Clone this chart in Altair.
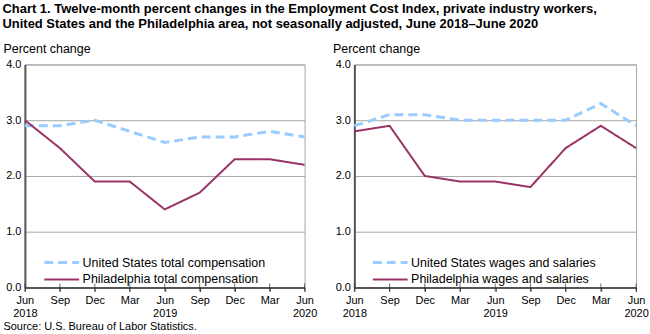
import json
import altair as alt
import pandas as pd

# ---- data ----
quarters = list(range(9))
tick_labels = [["Jun", "2018"], ["Sep"], ["Dec"], ["Mar"], ["Jun", "2019"],
               ["Sep"], ["Dec"], ["Mar"], ["Jun", "2020"]]
us_total = [2.9, 2.9, 3.0, 2.8, 2.6, 2.7, 2.7, 2.8, 2.7]
phl_total = [3.0, 2.5, 1.9, 1.9, 1.4, 1.7, 2.3, 2.3, 2.2]
us_wages = [2.9, 3.1, 3.1, 3.0, 3.0, 3.0, 3.0, 3.3, 2.9]
phl_wages = [2.8, 2.9, 2.0, 1.9, 1.9, 1.8, 2.5, 2.9, 2.5]
y_ticks = [0, 1, 2, 3, 4]

title_lines = [
    "Chart 1. Twelve-month percent changes in the Employment Cost  Index, private industry  workers,",
    "United States and the Philadelphia area, not seasonally adjusted,  June 2018\u2013June 2020",
]
source_text = "Source: U.S. Bureau of Labor Statistics."

FONT = "Liberation Sans"
US_COLOR = "#99CCFF"
PHL_COLOR = "#993366"

label_expr = json.dumps(tick_labels) + "[datum.value]"


def panel(us, phl, us_name, phl_name, width, legend_x, source, ytitle_x):
    df = pd.DataFrame({
        "q": quarters * 2,
        "v": us + phl,
        "s": [us_name] * len(us) + [phl_name] * len(phl),
    })
    domain = [us_name, phl_name]
    x_axis = alt.Axis(
        values=quarters, labelExpr=label_expr, grid=False, tickSize=4,
        tickColor="#333333", domainColor="#333333", domainWidth=1.5,
        labelFont=FONT, labelFontSize=11, labelColor="black", labelPadding=3,
        labelLineHeight=13, labelBaseline="top", labelFlush=False,
        labelOverlap=False, labelAlign="center",
        title=source if source else "",
        titleFont=FONT, titleFontSize=11, titleFontWeight="normal",
        titleColor="black", titleAnchor="start", titleAlign="left",
        titleX=-22, titleY=33, titleBaseline="top",
    )
    y_axis = alt.Axis(
        values=y_ticks, format=".1f", ticks=False, grid=True,
        gridColor="#a6a6a6", gridWidth=1, domainColor="#555555",
        domainWidth=2, labelFont=FONT, labelFontSize=11, labelColor="black",
        labelPadding=4, title="Percent change", titleAngle=0,
        titleAlign="left", titleBaseline="alphabetic", titleX=ytitle_x,
        titleY=-12, titleFont=FONT, titleFontSize=12.5,
        titleFontWeight="normal", titleColor="black",
    )
    xs = alt.Scale(domain=[0, 8], nice=False, zero=False)
    ys = alt.Scale(domain=[0, 4], nice=False)
    leg = alt.Legend(
        title=None, orient="none", legendX=legend_x, legendY=192,
        symbolType="stroke", symbolSize=1225, symbolStrokeWidth=2.5,
        labelFont=FONT, labelFontSize=12.5, labelColor="black", labelLimit=0,
        clipHeight=14, rowPadding=3, labelOffset=2)
    lines = alt.Chart(df).mark_line(strokeJoin="miter").encode(
        x=alt.X("q:Q", scale=xs, axis=x_axis),
        y=alt.Y("v:Q", scale=ys, axis=y_axis),
        color=alt.Color("s:N", scale=alt.Scale(domain=domain, range=[US_COLOR, PHL_COLOR]),
                        sort=domain, legend=leg),
        strokeDash=alt.StrokeDash("s:N", scale=alt.Scale(domain=domain, range=[[9, 5], [1, 0]]),
                                  sort=domain, legend=leg),
        strokeWidth=alt.StrokeWidth("s:N", scale=alt.Scale(domain=domain, range=[3, 2]), legend=None),
        order=alt.Order("s:N", sort="descending"),
    )
    ticks = alt.Chart(pd.DataFrame({"q": quarters, "v": [0] * len(quarters)})).mark_tick(
        orient="vertical", size=8, thickness=1, color="#333333"
    ).encode(
        x=alt.X("q:Q", scale=xs, axis=x_axis),
        y=alt.Y("v:Q", scale=ys, axis=y_axis),
    )
    return alt.layer(lines, ticks).properties(width=width, height=224)


left = panel(us_total, phl_total, "United States total compensation",
             "Philadelphia total compensation", 281, 18, source_text, -22)
right = panel(us_wages, phl_wages, "United States wages and salaries",
              "Philadelphia wages and salaries", 283, 17, None, -22)

chart = alt.hconcat(left, right, spacing=14).resolve_scale(
    color="independent", strokeDash="independent", strokeWidth="independent"
).properties(
    title=alt.TitleParams(text=title_lines, anchor="start", font=FONT, fontSize=13,
                          fontWeight="bold", color="black", lineHeight=15, offset=11),
    padding={"left": 2, "top": 2, "right": 1, "bottom": 0},
).configure_view(stroke="#a6a6a6", strokeWidth=1)

chart.save("out.html", embed_options={"renderer": "svg", "actions": False})
